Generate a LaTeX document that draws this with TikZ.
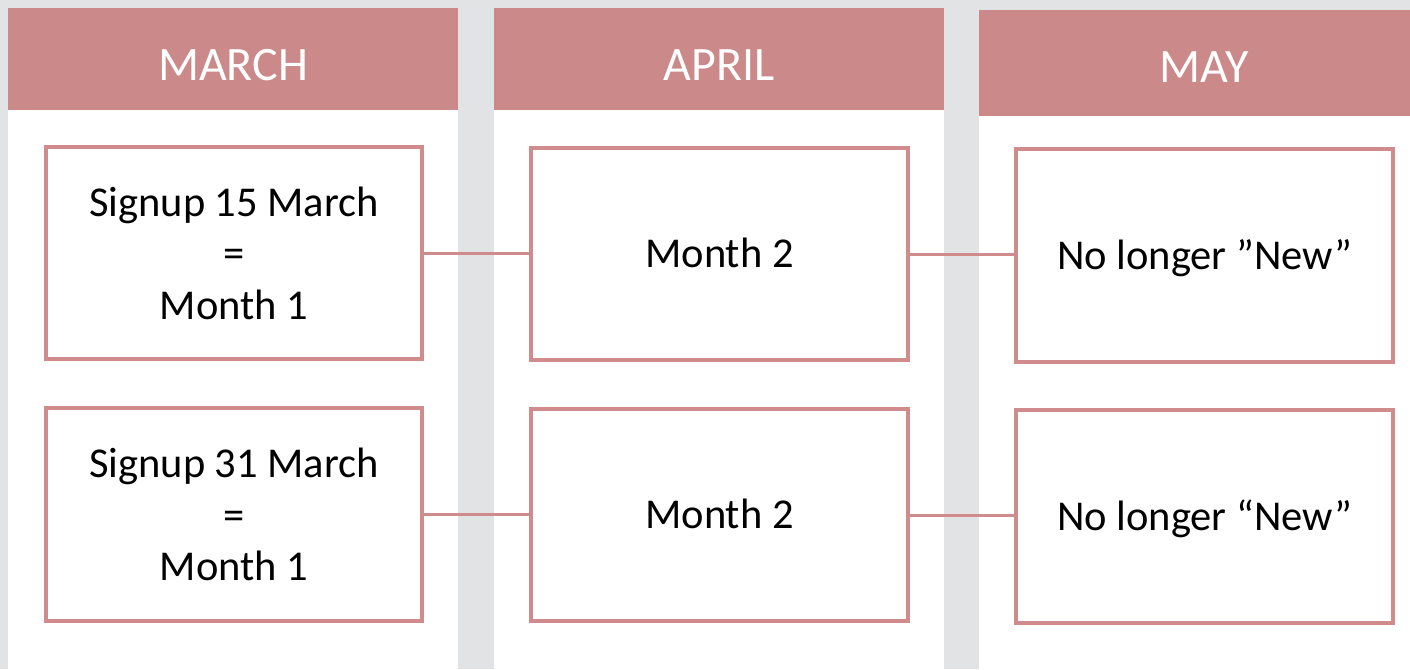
\documentclass[tikz,border=0pt]{standalone}
\usepackage{fontspec}
\setmainfont{Carlito}
\definecolor{bg}{RGB}{226,227,229}
\definecolor{hdr}{RGB}{203,137,137}
\definecolor{bord}{RGB}{208,139,141}
\begin{document}
\begin{tikzpicture}[x=1pt,y=-1pt,
  colbox/.style={fill=white,draw=none,inner sep=0pt,anchor=north west},
  hdrbox/.style={fill=hdr,draw=none,inner sep=0pt,anchor=north west},
  hdrtext/.style={text=white,font=\fontsize{48}{58}\selectfont,anchor=base,inner sep=0pt},
  cell/.style={draw=bord,line width=3.6pt,fill=white,minimum width=376.5pt,minimum height=212.5pt,
    align=center,inner sep=0pt,font=\fontsize{42.5}{51.5}\selectfont},
  one/.style={text height=27pt,text depth=0pt},
  link/.style={draw=bord,line width=3pt}]
\fill[bg] (0,0) rectangle (1410,669);
\useasboundingbox (0,0) rectangle (1410,669);
% columns
\node[colbox,minimum width=450pt,minimum height=661pt] (c1) at (8,8) {};
\node[colbox,minimum width=450pt,minimum height=661pt] (c2) at (494,8) {};
\node[colbox,minimum width=431pt,minimum height=659pt] (c3) at (979,10) {};
% headers
\node[hdrbox,minimum width=450pt,minimum height=102pt] (h1) at (8,8) {};
\node[hdrbox,minimum width=450pt,minimum height=102pt] (h2) at (494,8) {};
\node[hdrbox,minimum width=431pt,minimum height=106pt] (h3) at (979,10) {};
\node[hdrtext] (t1) at (233,80) {MARCH};
\node[hdrtext] (t2) at (719,80) {APRIL};
\node[hdrtext] (t3) at (1204,82) {MAY};
% cells
\node[cell] (b11) at (234,253) {Signup 15 March\\=\\Month 1};
\node[cell,one] (b12) at (719.5,254) {Month 2};
\node[cell,one] (b13) at (1204.5,255.5) {No longer ”New”};
\node[cell] (b21) at (234,514.5) {Signup 31 March\\=\\Month 1};
\node[cell,one] (b22) at (719.5,515) {Month 2};
\node[cell,one] (b23) at (1204.5,516.5) {No longer “New”};
% connectors
\draw[link] (b11.east) -- (b11.east -| b12.west);
\draw[link] (b12.east) -- (b12.east -| b13.west);
\draw[link] (b21.east) -- (b21.east -| b22.west);
\draw[link] (b22.east) -- (b22.east -| b23.west);
\end{tikzpicture}
\end{document}
